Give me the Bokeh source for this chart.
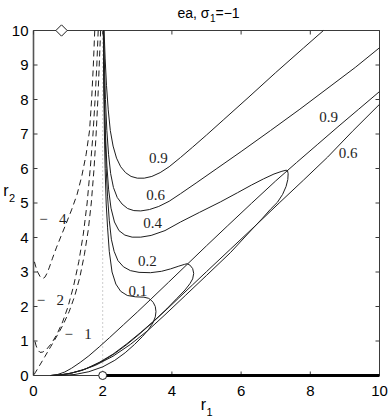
import math
from bokeh.plotting import figure
from bokeh.models import Range1d, Label
from bokeh.core.properties import value
from bokeh.embed import file_html
from bokeh.resources import INLINE

# ---------------- data ----------------
title_main = "ea, σ"
title_sub = "1"
title_tail = "=−1"
x_label_main, x_label_sub = "r", "1"
y_label_main, y_label_sub = "r", "2"
x_ticks = [0, 2, 4, 6, 8, 10]
y_ticks = [0, 1, 2, 3, 4, 5, 6, 7, 8, 9, 10]

# solid contours (upper branches / loops)
c09_up_x = [2.04, 2.07, 2.11, 2.16, 2.22, 2.30, 2.40, 2.52, 2.66, 2.82, 3.00, 3.20, 3.42, 3.66, 3.92, 4.25, 4.60, 5.00, 5.50, 6.20, 7.00, 7.80, 8.38]
c09_up_y = [10.0, 9.2, 8.4, 7.7, 7.1, 6.65, 6.3, 6.05, 5.88, 5.77, 5.72, 5.72, 5.77, 5.88, 6.05, 6.32, 6.62, 6.97, 7.42, 8.05, 8.78, 9.49, 10.0]

c06_up_x = [2.03, 2.05, 2.08, 2.12, 2.17, 2.23, 2.31, 2.42, 2.56, 2.72, 2.90, 3.10, 3.35, 3.62, 3.92, 4.25, 4.70, 5.30, 6.00, 6.85, 7.70, 8.60, 9.30, 10.0]
c06_up_y = [10.0, 9.0, 8.0, 7.1, 6.4, 5.85, 5.45, 5.16, 4.97, 4.84, 4.78, 4.77, 4.81, 4.90, 5.05, 5.27, 5.58, 6.00, 6.49, 7.10, 7.72, 8.40, 8.93, 9.50]

c04_x = [2.02, 2.03, 2.05, 2.08, 2.12, 2.17, 2.24, 2.34, 2.47, 2.64, 2.85, 3.10, 3.40, 3.80, 4.25, 4.80, 5.40, 5.90, 6.30, 6.65, 6.95, 7.18, 7.30, 7.34,
         7.36, 7.35, 7.30, 7.20, 7.05, 6.85, 6.62, 6.30, 5.69, 5.00, 4.40, 3.80, 3.30, 2.80, 2.30, 1.80, 1.40, 1.00, 0.70, 0.50]
c04_y = [10.0, 9.0, 8.0, 7.0, 6.1, 5.4, 4.85, 4.45, 4.2, 4.07, 4.01, 4.01, 4.06, 4.2, 4.45, 4.73, 5.03, 5.30, 5.52, 5.70, 5.84, 5.92, 5.95, 5.94,
         5.85, 5.68, 5.48, 5.25, 5.02, 4.82, 4.56, 4.22, 3.56, 2.90, 2.33, 1.76, 1.30, 0.90, 0.56, 0.30, 0.15, 0.05, 0.01, 0.0]

c02_x = [2.02, 2.03, 2.05, 2.07, 2.10, 2.14, 2.19, 2.25, 2.33, 2.44, 2.60, 2.80, 3.05, 3.38, 3.70, 3.96, 4.20, 4.36, 4.44, 4.52, 4.60, 4.63,
         4.60, 4.52, 4.38, 4.15, 3.85, 3.50, 3.10, 2.70, 2.30, 1.90, 1.50, 1.10, 0.80, 0.50]
c02_y = [10.0, 9.0, 8.0, 7.0, 6.0, 5.2, 4.5, 3.95, 3.6, 3.33, 3.15, 3.04, 2.99, 2.98, 3.02, 3.09, 3.17, 3.22, 3.24, 3.20, 3.10, 2.96,
         2.80, 2.66, 2.48, 2.24, 1.93, 1.60, 1.25, 0.92, 0.62, 0.38, 0.19, 0.07, 0.02, 0.0]

c01_x = [2.02, 2.025, 2.035, 2.05, 2.07, 2.10, 2.14, 2.19, 2.27, 2.38, 2.52, 2.71, 2.95, 3.19, 3.32, 3.38, 3.46, 3.52, 3.54, 3.52, 3.45,
         3.33, 3.15, 2.92, 2.65, 2.35, 2.00, 1.60, 1.20, 0.85, 0.50]
c01_y = [10.0, 9.0, 8.0, 7.0, 6.0, 5.0, 4.3, 3.6, 3.0, 2.65, 2.44, 2.32, 2.28, 2.27, 2.24, 2.20, 2.12, 2.00, 1.85, 1.70, 1.52,
         1.34, 1.13, 0.90, 0.66, 0.44, 0.25, 0.11, 0.03, 0.005, 0.0]

# solid contours (lower, nearly diagonal branches)
c09_lo_x = [0.50, 0.70, 0.90, 1.10, 1.35, 1.60, 1.90, 2.20, 2.60, 3.00, 3.40, 3.90, 4.44, 5.00, 5.60, 6.30, 7.00, 7.60, 8.20, 8.80, 9.40, 10.0]
c09_lo_y = [0.00, 0.03, 0.10, 0.21, 0.38, 0.57, 0.83, 1.10, 1.47, 1.84, 2.22, 2.70, 3.22, 3.76, 4.33, 4.99, 5.64, 6.17, 6.69, 7.21, 7.72, 8.23]

c06_lo_x = [0.50, 0.80, 1.10, 1.40, 1.70, 2.00, 2.35, 2.70, 3.05, 3.40, 3.80, 4.20, 4.60, 5.00, 5.69, 6.40, 7.10, 7.80, 8.50, 9.22, 10.0]
c06_lo_y = [0.00, 0.02, 0.07, 0.15, 0.27, 0.42, 0.64, 0.90, 1.19, 1.50, 1.87, 2.25, 2.63, 3.01, 3.66, 4.33, 5.00, 5.66, 6.33, 7.08, 7.86]

# dashed contours
m4_x = [1.77, 1.73, 1.68, 1.62, 1.52, 1.40, 1.26, 1.10, 0.95, 0.80, 0.66, 0.55, 0.46, 0.39, 0.33, 0.27, 0.20, 0.13, 0.06, 0.0]
m4_y = [10.0, 9.0, 8.0, 7.1, 6.4, 5.8, 5.25, 4.8, 4.42, 4.05, 3.70, 3.40, 3.14, 2.96, 2.85, 2.81, 2.85, 2.98, 3.17, 3.40]

m2_x = [1.87, 1.83, 1.78, 1.72, 1.64, 1.55, 1.44, 1.31, 1.16, 1.00, 0.84, 0.68, 0.52, 0.38, 0.27, 0.19, 0.12, 0.07, 0.03]
m2_y = [10.0, 9.0, 8.0, 7.0, 6.0, 5.0, 4.1, 3.3, 2.6, 2.0, 1.55, 1.2, 0.93, 0.76, 0.68, 0.67, 0.74, 0.88, 1.05]

m1_x = [1.94, 1.90, 1.86, 1.81, 1.75, 1.67, 1.58, 1.47, 1.34, 1.19, 1.03, 0.86, 0.68, 0.50, 0.33, 0.17, 0.05, 0.0]
m1_y = [10.0, 9.0, 8.0, 7.0, 6.0, 5.0, 4.2, 3.5, 2.85, 2.3, 1.85, 1.48, 1.15, 0.84, 0.55, 0.28, 0.08, 0.0]

# contour labels
lab_text = ["0.9", "0.6", "0.4", "0.2", "0.1", "0.9", "0.6", "−\u2002 4", "−\u2002 2", "−\u2002 1"]
lab_x = [3.61, 3.53, 3.44, 3.29, 3.02, 8.53, 9.09, 0.56, 0.49, 1.29]
lab_y = [6.29, 5.22, 4.43, 3.33, 2.46, 7.48, 6.46, 4.55, 2.20, 1.19]

# special marks
vline_x = [2, 2]
vline_y = [0, 10]
thick_x = [2, 10]
thick_y = [0, 0]
diamond_x = [0.81]
diamond_y = [10.0]
circle_x = [2.0]
circle_y = [0.0]

# ---------------- layout: the frame covers the whole canvas ----------------
W, H = 388, 418
BOX_L, BOX_R, BOX_T, BOX_B = 33, 379, 30, 375          # pixel box of the 0..10 axes
SX = (BOX_R - BOX_L) / 10.0
SY = (BOX_B - BOX_T) / 10.0
x_lo, x_hi = -BOX_L / SX, 10 + (W - BOX_R) / SX
y_lo, y_hi = -(H - BOX_B) / SY, 10 + BOX_T / SY

def at_px(px, py):   # canvas pixel position -> data coordinates (for text placement)
    return x_lo + px / SX, y_hi - py / SY

def px_x(d):
    return d / SX

def px_y(d):
    return d / SY

INK = "#1e1e1e"
AX = "#3a3a3a"
SANS = "Liberation Sans"

p = figure(width=W, height=H, x_range=Range1d(x_lo, x_hi), y_range=Range1d(y_lo, y_hi),
           output_backend="svg", toolbar_location=None, title=None,
           min_border=0, min_border_left=0, min_border_right=0, min_border_top=0, min_border_bottom=0)
p.xaxis.visible = False
p.yaxis.visible = False
p.grid.visible = False
p.outline_line_color = None
p.background_fill_color = "white"
p.border_fill_color = "white"

# axes box (left edge a bit heavier, as in the reference)
p.multi_line(xs=[[0, 10], [0, 10], [10, 10]], ys=[[0, 0], [10, 10], [0, 10]], line_color=AX, line_width=1)
p.line([0, 0], [0, 10], line_color="#555555", line_width=1.6)

# inward ticks on all four sides
tl_x, tl_y = px_x(4), px_y(4)
n_x, n_y = len(x_ticks), len(y_ticks)
p.segment(x0=x_ticks * 2, y0=[0] * n_x + [10] * n_x, x1=x_ticks * 2, y1=[tl_y] * n_x + [10 - tl_y] * n_x,
          line_color=AX, line_width=1)
p.segment(x0=[0] * n_y + [10] * n_y, y0=y_ticks * 2, x1=[tl_x] * n_y + [10 - tl_x] * n_y, y1=y_ticks * 2,
          line_color=AX, line_width=1)

# tick labels
p.text(x=x_ticks, y=[-px_y(15)] * n_x, text=[str(t) for t in x_ticks],
       text_font=value(SANS), text_font_size=value("15px"), text_color="black",
       text_align="center", text_baseline="middle")
p.text(x=[-px_x(5)] * n_y, y=y_ticks, text=[str(t) for t in y_ticks],
       text_font=value(SANS), text_font_size=value("15px"), text_color="black",
       text_align="right", text_baseline="middle")

# dotted vertical line
p.line(vline_x, vline_y, line_color="#9a9a9a", line_dash="1 3", line_width=1)

# solid contours
for xs, ys in [(c09_up_x, c09_up_y), (c06_up_x, c06_up_y), (c04_x, c04_y), (c02_x, c02_y),
               (c01_x, c01_y), (c09_lo_x, c09_lo_y), (c06_lo_x, c06_lo_y)]:
    p.line(xs, ys, line_color=INK, line_width=1)

# dashed contours
for xs, ys in [(m4_x, m4_y), (m2_x, m2_y), (m1_x, m1_y)]:
    p.line(xs, ys, line_color=INK, line_width=1, line_dash="6 4")

# thick segment on the r1 axis
p.line(thick_x, thick_y, line_color="black", line_width=3)

# open markers
p.scatter(diamond_x, diamond_y, marker="square", angle=math.pi / 4, size=8,
          fill_color="white", line_color=INK, line_width=1)
p.scatter(circle_x, circle_y, marker="circle", size=8,
          fill_color="white", line_color=INK, line_width=1)

# contour labels
p.text(x=lab_x, y=lab_y, text=lab_text, text_font=value("Liberation Serif"), text_font_size=value("15px"),
       text_color=INK, text_align="center", text_baseline="middle")

def put(text, px, py, size, align):
    x, y = at_px(px, py)
    p.add_layout(Label(x=x, y=y, text=text, text_font=SANS, text_font_size=size,
                       text_align=align, text_baseline="middle", text_color="black"))

# title "ea, σ₁=−1" with a real subscript
put(title_main, 209, 12, "14px", "right")
put(title_sub, 209.5, 17, "10px", "left")
put(title_tail, 215, 12, "14px", "left")

# axis labels r₁ and r₂
put(x_label_main, 205.5, 404, "16px", "right")
put(x_label_sub, 206, 411, "11px", "left")
put(y_label_main, 8, 190, "16px", "right")
put(y_label_sub, 8.5, 197, "11px", "left")

open("out.html", "w").write(file_html(p, INLINE))
